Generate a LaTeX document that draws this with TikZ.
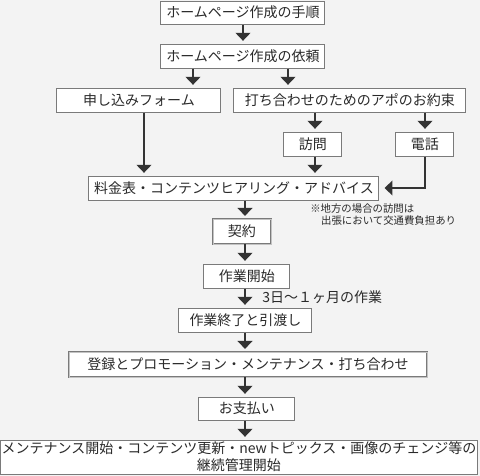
\documentclass[tikz,border=0pt]{standalone}
\usepackage{fontspec}
\usetikzlibrary{arrows.meta}
\newfontfamily\jpfont{Noto Sans CJK JP}
\definecolor{bgcol}{HTML}{F3F3F3}
\definecolor{boxgray}{HTML}{7A7A7A}
\definecolor{txtcol}{HTML}{2A2A2A}
\definecolor{arrcol}{HTML}{333333}

\begin{document}
\begin{tikzpicture}[x=0.75pt,y=0.75pt,yscale=-1,xscale=1,
  box/.style={draw=boxgray,fill=white,line width=0.75pt,inner sep=0pt,text=txtcol,font=\jpfont\fontsize{10.5}{13}\selectfont,minimum height=18pt},
  dbox/.style={box,line width=0.6pt,double=white!55!boxgray,double distance=0.5pt},
  lbl/.style={inner sep=0pt,text=txtcol,font=\jpfont\fontsize{10.5}{13}\selectfont},
  note/.style={inner sep=0pt,text=txtcol,font=\jpfont\fontsize{7.8}{9}\selectfont},
  arr/.style={draw=arrcol,line width=1.9pt,-{Triangle[width=11pt,length=6pt]},shorten >=2pt}]
%background, set diagram size 480 x 476
\fill [bgcol] (0,0) rectangle (480,476);
\useasboundingbox (0,0) rectangle (480,476);
%arrow columns
\coordinate (colA) at (193,0);
\coordinate (colB) at (288,0);
\coordinate (colC) at (144,0);
\coordinate (colD) at (315,0);
\coordinate (colE) at (425,0);
\coordinate (spine) at (245,0);

%Shape: Rectangle
\node [box,minimum width=123pt,minimum height=17.25pt] (title) at (243,12.5) {ホームページ作成の手順};
%Shape: Rectangle
\node [box,minimum width=123pt] (request) at (243,56) {ホームページ作成の依頼};
%Shape: Rectangle
\node [box,minimum width=123pt] (form) at (139,100) {申し込みフォーム};
%Shape: Rectangle
\node [box,minimum width=174pt] (appoint) at (350,100) {打ち合わせのためのアポのお約束};
%Shape: Rectangle
\node [box,minimum width=43.5pt] (visit) at (313,144) {訪問};
%Shape: Rectangle
\node [box,minimum width=43.5pt] (phone) at (425,144) {電話};
%Shape: Rectangle
\node [box,minimum width=217.5pt] (hearing) at (234,188) {料金表・コンテンツヒアリング・アドバイス};
%Shape: Rectangle
\node [dbox,minimum width=43.5pt,minimum height=18.75pt] (contract) at (242,231.5) {契約};
%Shape: Rectangle
\node [box,minimum width=64.5pt] (start) at (247,276) {作業開始};
%Shape: Rectangle
\node [box,minimum width=99.75pt] (finish) at (245.5,320) {作業終了と引渡し};
%Shape: Rectangle
\node [dbox,minimum width=268.5pt,minimum height=18.75pt] (promo) at (248,364.5) {登録とプロモーション・メンテナンス・打ち合わせ};
%Shape: Rectangle
\node [box,minimum width=72pt,minimum height=17.25pt] (pay) at (247,408.5) {お支払い};
%Shape: Rectangle
\node [box,minimum width=358.5pt,minimum height=25.5pt,align=center,font=\jpfont\fontsize{10.5}{12.75}\selectfont] (maint) at (239,457) {メンテナンス開始・コンテンツ更新・newトピックス・画像のチェンジ等の\\継続管理開始};

% Text Node
\node [lbl,anchor=west] (span) at (262,297.5) {3日～１ヶ月の作業};
% Text Node
\node [note,anchor=north west,align=left] (remark) at (310,203.5) {※地方の場合の訪問は\\\hspace{1.05em}出張において交通費負担あり};

%Straight Lines
\draw [arr] (title) -- (request);
\draw [arr] (request.south -| colA) -- (form.north -| colA);
\draw [arr] (request.south -| colB) -- (appoint.north -| colB);
\draw [arr] (form.south -| colC) -- (hearing.north -| colC);
\draw [arr] (appoint.south -| colD) -- (visit.north -| colD);
\draw [arr] (appoint.south -| colE) -- (phone.north -| colE);
\draw [arr] (visit.south -| colD) -- (hearing.north -| colD);
\draw [arr,shorten >=3.75pt] (phone.south) |- (hearing.east);
\draw [arr] (hearing.south -| spine) -- (contract.north -| spine);
\draw [arr] (contract.south -| spine) -- (start.north -| spine);
\draw [arr] (start.south -| spine) -- (finish.north -| spine);
\draw [arr] (finish.south -| spine) -- (promo.north -| spine);
\draw [arr] (promo.south -| spine) -- (pay.north -| spine);
\draw [arr] (pay.south -| spine) -- (maint.north -| spine);
\end{tikzpicture}
\end{document}
